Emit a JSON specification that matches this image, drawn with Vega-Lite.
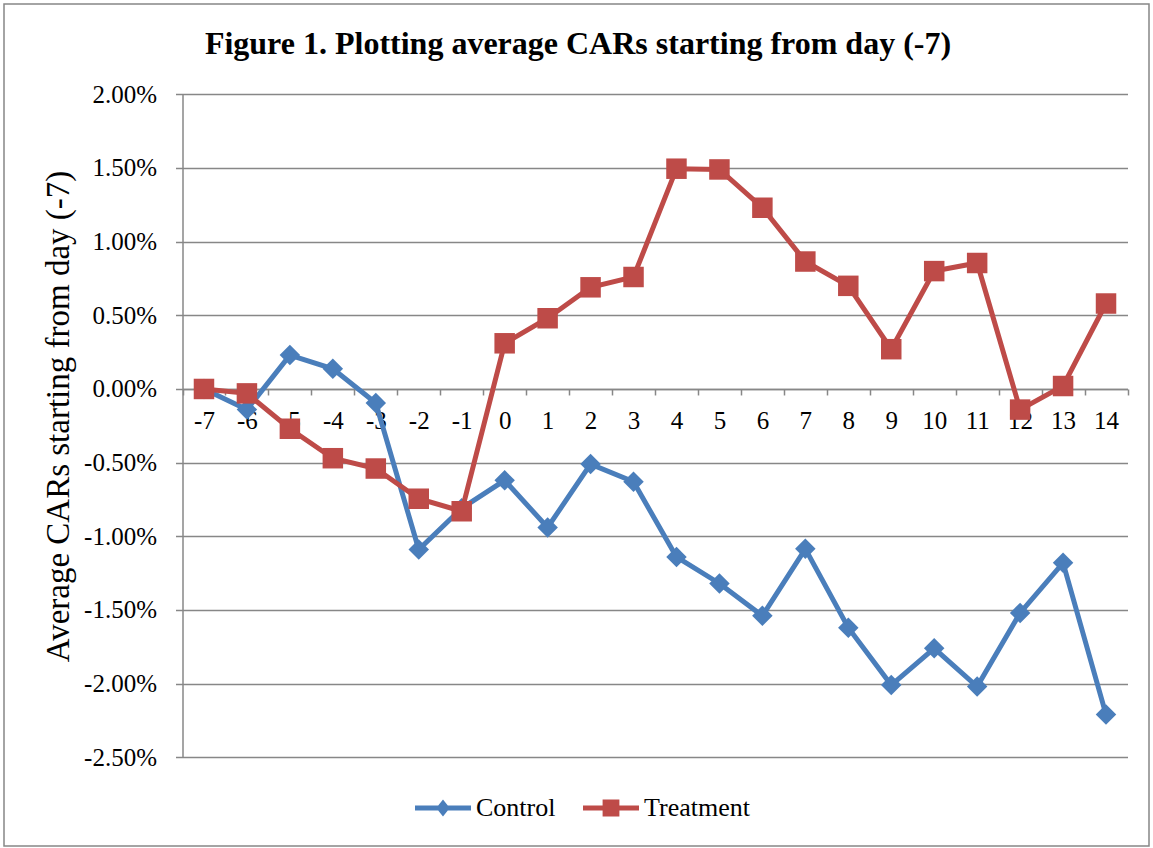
{
  "$schema": "https://vega.github.io/schema/vega-lite/v6.json",
  "width": 1145,
  "height": 842,
  "autosize": {"type": "none"},
  "padding": {"left": 4, "top": 4, "right": 4, "bottom": 2},
  "background": "white",
  "title": {
    "text": "Figure 1. Plotting average CARs starting from day (-7)",
    "font": "Liberation Serif",
    "fontSize": 32,
    "fontWeight": "bold",
    "color": "black",
    "anchor": "middle",
    "frame": "group",
    "baseline": "alphabetic",
    "offset": -82,
    "dx": 1.5
  },
  "data": {
    "values": [
      {"day": -7, "series": "Control", "car": 0.0},
      {"day": -6, "series": "Control", "car": -0.0014},
      {"day": -5, "series": "Control", "car": 0.0023},
      {"day": -4, "series": "Control", "car": 0.00137},
      {"day": -3, "series": "Control", "car": -0.00095},
      {"day": -2, "series": "Control", "car": -0.0109},
      {"day": -1, "series": "Control", "car": -0.0081},
      {"day": 0, "series": "Control", "car": -0.0062},
      {"day": 1, "series": "Control", "car": -0.0094},
      {"day": 2, "series": "Control", "car": -0.0051},
      {"day": 3, "series": "Control", "car": -0.0063},
      {"day": 4, "series": "Control", "car": -0.0114},
      {"day": 5, "series": "Control", "car": -0.0132},
      {"day": 6, "series": "Control", "car": -0.0154},
      {"day": 7, "series": "Control", "car": -0.01085},
      {"day": 8, "series": "Control", "car": -0.0162},
      {"day": 9, "series": "Control", "car": -0.0201},
      {"day": 10, "series": "Control", "car": -0.0176},
      {"day": 11, "series": "Control", "car": -0.0202},
      {"day": 12, "series": "Control", "car": -0.0152},
      {"day": 13, "series": "Control", "car": -0.0118},
      {"day": 14, "series": "Control", "car": -0.0221},
      {"day": -7, "series": "Treatment", "car": 0.0},
      {"day": -6, "series": "Treatment", "car": -0.0003},
      {"day": -5, "series": "Treatment", "car": -0.0027},
      {"day": -4, "series": "Treatment", "car": -0.0047},
      {"day": -3, "series": "Treatment", "car": -0.0054},
      {"day": -2, "series": "Treatment", "car": -0.00745},
      {"day": -1, "series": "Treatment", "car": -0.0083},
      {"day": 0, "series": "Treatment", "car": 0.0031},
      {"day": 1, "series": "Treatment", "car": 0.0048},
      {"day": 2, "series": "Treatment", "car": 0.0069},
      {"day": 3, "series": "Treatment", "car": 0.0076},
      {"day": 4, "series": "Treatment", "car": 0.01495},
      {"day": 5, "series": "Treatment", "car": 0.0149},
      {"day": 6, "series": "Treatment", "car": 0.0123},
      {"day": 7, "series": "Treatment", "car": 0.00865},
      {"day": 8, "series": "Treatment", "car": 0.007},
      {"day": 9, "series": "Treatment", "car": 0.0027},
      {"day": 10, "series": "Treatment", "car": 0.008},
      {"day": 11, "series": "Treatment", "car": 0.00855},
      {"day": 12, "series": "Treatment", "car": -0.0014},
      {"day": 13, "series": "Treatment", "car": 0.0002},
      {"day": 14, "series": "Treatment", "car": 0.0058}
    ]
  },
  "encoding": {
    "x": {
      "field": "day",
      "type": "ordinal",
      "scale": {"type": "band", "range": [178.5, 1123.5], "paddingInner": 0, "paddingOuter": 0},
      "axis": {
        "title": null,
        "labelAngle": 0,
        "tickBand": "extent",
        "offset": -457.03,
        "domainColor": "#878787",
        "domainWidth": 1.5,
        "tickColor": "#878787",
        "tickWidth": 1.5,
        "tickSize": 6,
        "labelFont": "Liberation Serif",
        "labelFontSize": 25,
        "labelColor": "black",
        "labelPadding": 14,
        "labelOverlap": false,
        "grid": false,
        "labelExpr": "isValid(datum.value) ? '' + datum.value : ''"
      }
    },
    "y": {
      "field": "car",
      "type": "quantitative",
      "scale": {"domain": [-0.025, 0.02], "range": [753.3, 90.3], "nice": false, "zero": false},
      "axis": {
        "title": "Average CARs starting from day (-7)",
        "values": [-0.025, -0.02, -0.015, -0.01, -0.005, 0, 0.005, 0.01, 0.015, 0.02],
        "offset": -178.5,
        "grid": true,
        "gridColor": "#878787",
        "gridWidth": 1.5,
        "domainColor": "#878787",
        "domainWidth": 1.5,
        "tickColor": "#878787",
        "tickWidth": 1.5,
        "tickSize": 7,
        "labelFont": "Liberation Serif",
        "labelFontSize": 25,
        "labelColor": "black",
        "labelPadding": 19,
        "labelOverlap": false,
        "labelFlush": false,
        "labelExpr": "replace(format(datum.value, '.2%'), '\u2212', '-')",
        "titleFont": "Liberation Serif",
        "titleFontSize": 33,
        "titleFontWeight": "normal",
        "titleColor": "black",
        "titleX": -114.5,
        "titleY": 412,
        "titleAngle": -90,
        "titleAlign": "center",
        "titleBaseline": "alphabetic"
      }
    },
    "color": {
      "field": "series",
      "type": "nominal",
      "scale": {"domain": ["Control", "Treatment"], "range": ["#4A7EBB", "#BE4B48"]},
      "legend": {
        "orient": "none",
        "legendX": 411,
        "legendY": 776,
        "direction": "horizontal",
        "columns": 2,
        "title": null,
        "symbolSize": 3136,
        "labelFont": "Liberation Serif",
        "labelFontSize": 26,
        "labelColor": "black",
        "labelOffset": 5,
        "columnPadding": 27,
        "padding": 0,
        "encode": {
          "symbols": {
            "update": {
              "shape": {"signal": "datum.value === 'Control' ? 'M-1,-0.09L-0.171,-0.09L0,-0.3L0.171,-0.09L1,-0.09L1,0.09L0.171,0.09L0,0.3L-0.171,0.09L-1,0.09Z' : 'M-1,-0.09L-0.3,-0.09L-0.3,-0.3L0.3,-0.3L0.3,-0.09L1,-0.09L1,0.09L0.3,0.09L0.3,0.3L-0.3,0.3L-0.3,0.09L-1,0.09Z'"},
              "fill": {"signal": "datum.value === 'Control' ? '#4A7EBB' : '#BE4B48'"},
              "stroke": {"value": "transparent"},
              "strokeWidth": {"value": 0},
              "opacity": {"value": 1}
            }
          }
        }
      }
    }
  },
  "layer": [
    {
      "transform": [{"filter": "datum.series === 'Control'"}],
      "mark": {"type": "line", "strokeWidth": 5}
    },
    {
      "transform": [{"filter": "datum.series === 'Control'"}],
      "mark": {"type": "point", "shape": "diamond", "filled": true, "size": 420, "opacity": 1}
    },
    {
      "transform": [{"filter": "datum.series === 'Treatment'"}],
      "mark": {"type": "line", "strokeWidth": 5}
    },
    {
      "transform": [{"filter": "datum.series === 'Treatment'"}],
      "mark": {"type": "point", "shape": "square", "filled": true, "size": 420, "opacity": 1}
    }
  ],
  "config": {
    "font": "Liberation Serif",
    "view": {"stroke": "#878787", "strokeWidth": 1.5}
  }
}
